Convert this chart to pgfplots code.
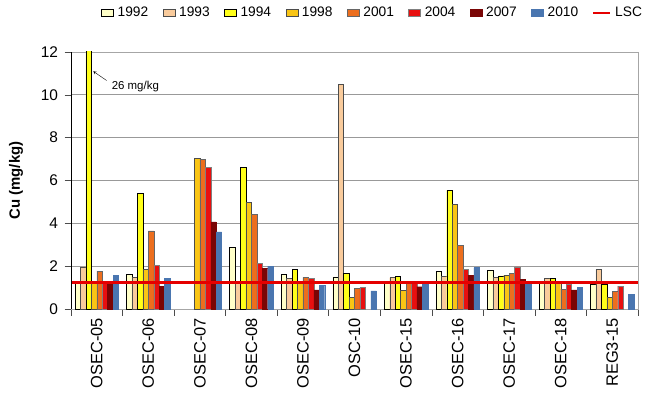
\documentclass[border=0pt]{standalone}
\usepackage{fontspec}
\setmainfont{Liberation Sans}
\usepackage{pgfplots}
\usepackage{pgfplotstable}
\pgfplotsset{compat=1.18}
\definecolor{c1992}{HTML}{FFFFC8}
\definecolor{c1993}{HTML}{F9CB9C}
\definecolor{c1994}{HTML}{FFFF1A}
\definecolor{c1998}{HTML}{F9C515}
\definecolor{c2001}{HTML}{EC6E1E}
\definecolor{c2004}{HTML}{E81010}
\definecolor{c2007}{HTML}{7A0505}
\definecolor{c2010}{HTML}{4A76B0}
\pgfplotsset{
  mybar/.style={ybar, bar width=0.1056, line width=0.35pt,
    legend image code/.code={\draw[##1] (0bp,-3.5bp) rectangle (12bp,3.5bp);}},
  lscline/.style={legend image code/.code={\draw[##1, line width=1.5pt] (0bp,0bp) -- (17bp,0bp);}},
}
\pgfplotstableread{
x  a1992 a1993 a1994 a1998 a2001 a2004 a2007 a2010
0  1.30  1.97  26    1.25  1.77  1.27  1.15  1.58
1  1.63  1.48  5.40  1.86  3.65  2.05  1.07  1.43
2  nan   nan   nan   7.02  7.00  6.63  4.07  3.60
3  2.87  1.20  6.60  4.97  4.41  2.13  1.90  2.00
4  1.61  1.43  1.85  1.30  1.48  1.43  0.89  1.12
5  1.50  10.48 1.66  0.54  0.96  1.00  nan   0.85
6  1.24  1.47  1.54  0.88  1.22  1.27  1.04  1.16
7  1.77  1.54  5.54  4.89  2.98  1.86  1.58  1.93
8  1.80  1.47  1.55  1.58  1.68  1.97  1.38  1.22
9  1.20  1.43  1.43  1.22  0.93  1.18  0.89  1.00
10 1.16  1.85  1.16  0.54  0.81  1.07  nan   0.70
}\data
\begin{document}
\begin{tikzpicture}
\begin{axis}[
  scale only axis, width=567bp, height=257bp,
  xmin=-0.5, xmax=10.5, ymin=0, ymax=12,
  ytick={0,2,...,12},
  xtick={-0.5,0.5,...,10.5}, xticklabels={},
  extra x ticks={0,1,...,10},
  extra x tick labels={OSEC-05,OSEC-06,OSEC-07,OSEC-08,OSEC-09,OSC-10,OSEC-15,OSEC-16,OSEC-17,OSEC-18,REG3-15},
  extra x tick style={major tick length=0pt, grid=none},
  xtick pos=left, ytick pos=left,
  tick align=outside, major tick length=6.5bp,
  tick style={draw=gray!60!black, line width=0.6pt},
  ymajorgrids, grid style={draw=gray!80, line width=0.7pt},
  axis line style={draw=gray!70, line width=0.7pt},
  /pgf/number format/assume math mode=true,
  yticklabel style={font=\fontsize{15.5}{16}\selectfont, xshift=-3bp},
  xticklabel style={font=\fontsize{16.5}{17}\selectfont, rotate=90, anchor=east, inner xsep=9bp},
  ylabel={\bfseries Cu (mg/kg)},
  ylabel style={font=\fontsize{15}{15}\selectfont, at={(axis description cs:-0.097,0.5)}, anchor=center},
  legend columns=-1,
  legend style={at={(0.532,1.152)}, anchor=center, draw=none, fill=none,
    font=\fontsize{13.8}{14}\selectfont,
    /tikz/every even column/.append style={column sep=12.5bp},
    /tikz/every odd column/.append style={column sep=2bp}},
  legend cell align=left,
]
\addplot[mybar, bar shift=-0.3696, fill=c1992, draw=black] table[x=x,y=a1992]{\data};
\addplot[mybar, bar shift=-0.2640, fill=c1993, draw=black!70] table[x=x,y=a1993]{\data};
\addplot[mybar, bar shift=-0.1584, fill=c1994, draw=black] table[x=x,y=a1994]{\data};
\addplot[mybar, bar shift=-0.0528, fill=c1998, draw=black!70] table[x=x,y=a1998]{\data};
\addplot[mybar, bar shift=0.0528, fill=c2001, draw=black!60] table[x=x,y=a2001]{\data};
\addplot[mybar, bar shift=0.1584, fill=c2004, draw=black!50] table[x=x,y=a2004]{\data};
\addplot[mybar, bar shift=0.2640, fill=c2007, draw=c2007] table[x=x,y=a2007]{\data};
\addplot[mybar, bar shift=0.3696, fill=c2010, draw=c2010] table[x=x,y=a2010]{\data};
\addplot[lscline, red!90!black, line width=3pt, sharp plot, no marks]
  coordinates {(-0.5,1.25) (10.5,1.25)};
\legend{1992,1993,1994,1998,2001,2004,2007,2010,LSC}
\draw[black, line width=0.8pt] (rel axis cs:0,0) -- (rel axis cs:0,1);
\node[anchor=west, font=\fontsize{11.5}{12}\selectfont, inner sep=0pt] at (axis cs:0.287,10.41) {26 mg/kg};
\draw[->, >=stealth, line width=0.4pt] (axis cs:0.19,10.67) -- (axis cs:-0.069,11.1);
\end{axis}
\pgfresetboundingbox
\path (-71bp,-108bp) rectangle (574bp,309bp);
\end{tikzpicture}
\end{document}
